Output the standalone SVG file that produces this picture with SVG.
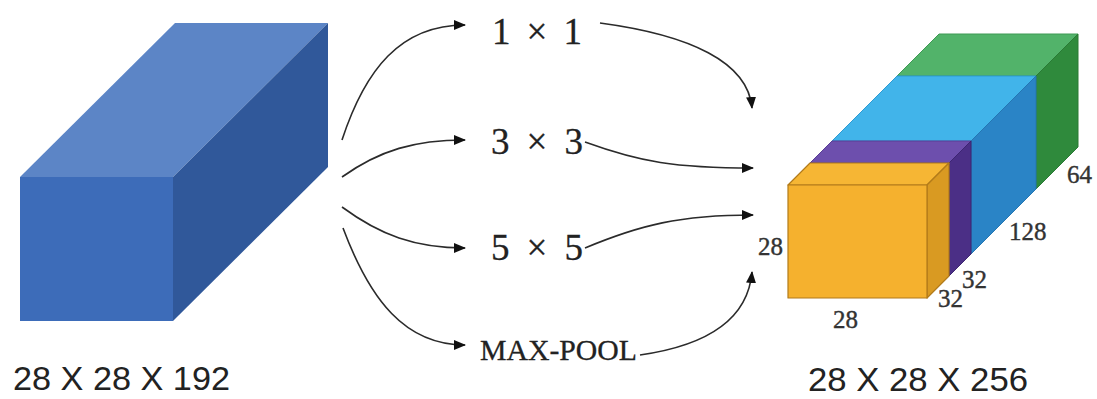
<svg xmlns="http://www.w3.org/2000/svg" width="1097" height="399" viewBox="0 0 1097 399">
<style>
.conn{fill:none;stroke:#2b2b2b;stroke-width:1.6}
.math{font-family:"Liberation Serif","DejaVu Serif",serif;fill:#222;stroke:#222;stroke-width:0.3}
.dim{font-family:"Liberation Serif","DejaVu Serif",serif;font-size:25px;fill:#333;stroke:#333;stroke-width:0.4}
.cap{font-family:"Liberation Sans",Arial,sans-serif;font-size:34px;fill:#222}
</style>
<defs>
<marker id="ah" viewBox="0 0 12 10" refX="11" refY="5" markerWidth="12" markerHeight="10" markerUnits="userSpaceOnUse" orient="auto">
<path d="M0,0 L12,5 L0,10 Z" fill="#111"/>
</marker>
</defs>
<rect width="1097" height="399" fill="#fff"/>

<g id="input-volume">
<polygon points="20,177 175,23 328,23 173,177" fill="#5c85c6"/>
<polygon points="173,177 328,23 328,167 173,321" fill="#30589a"/>
<rect x="20" y="177" width="153" height="144" fill="#3d6cb9"/>
</g>

<g id="op-1x1"><text class="math" x="492" y="44" font-size="37" textLength="90" lengthAdjust="spacing">1 × 1</text></g>
<g id="op-3x3"><text class="math" x="491" y="154" font-size="37" textLength="92" lengthAdjust="spacing">3 × 3</text></g>
<g id="op-5x5"><text class="math" x="491" y="260" font-size="37" textLength="92" lengthAdjust="spacing">5 × 5</text></g>
<g id="op-maxpool"><text class="math" x="480" y="360" font-size="30" textLength="157" lengthAdjust="spacingAndGlyphs">MAX-POOL</text></g>

<g id="output-volume" stroke-linejoin="round">
<polygon points="897,76 939,34 1078,34 1036,76" fill="#52b36a" stroke="#3f9a55" stroke-width="1"/>
<polygon points="1036,76 1078,34 1078,147 1036,189" fill="#2f8a3c" stroke="#2a7a35" stroke-width="1"/>
<polygon points="832,141 897,76 1036,76 971,141" fill="#41b4ea" stroke="#2e9bd3" stroke-width="1"/>
<polygon points="971,141 1036,76 1036,189 971,254" fill="#2a84c6" stroke="#2476b3" stroke-width="1"/>
<polygon points="810,163 832,141 971,141 949,163" fill="#6d4fad" stroke="#5a3f96" stroke-width="1"/>
<polygon points="949,163 971,141 971,254 949,276" fill="#4b2f86" stroke="#3d2672" stroke-width="1"/>
<text class="dim" x="758" y="255">28</text>
<polygon points="788,185 810,163 949,163 927,185" fill="#f6b634" stroke="#b27b1a" stroke-width="1.2"/>
<polygon points="927,185 949,163 949,276 927,298" fill="#d99a22" stroke="#b27b1a" stroke-width="1.2"/>
<rect x="788" y="185" width="139" height="113" fill="#f5b12e" stroke="#b27b1a" stroke-width="1.2"/>
</g>

<g id="dims">
<text class="dim" x="833" y="328">28</text>
<text class="dim" x="938" y="307">32</text>
<text class="dim" x="962" y="288">32</text>
<text class="dim" x="1009" y="240">128</text>
<text class="dim" x="1067" y="183">64</text>
</g>

<g id="caption-in"><text class="cap" x="13" y="390" textLength="217" lengthAdjust="spacingAndGlyphs">28 X 28 X 192</text></g>
<g id="caption-out"><text class="cap" x="808" y="391" textLength="220" lengthAdjust="spacingAndGlyphs">28 X 28 X 256</text></g>

<g id="connectors">
<path class="conn" d="M342,140 C365,70 400,25 465,25" marker-end="url(#ah)"/>
<path class="conn" d="M342,177 C380,150 415,140 465,140" marker-end="url(#ah)"/>
<path class="conn" d="M342,207 C380,235 415,248 465,248" marker-end="url(#ah)"/>
<path class="conn" d="M343,228 C370,300 405,345 465,345" marker-end="url(#ah)"/>
<path class="conn" d="M600,23 C690,35 748,62 752,108" marker-end="url(#ah)"/>
<path class="conn" d="M585,142 C640,162 675,168 753,168" marker-end="url(#ah)"/>
<path class="conn" d="M585,248 C640,225 680,215 753,215" marker-end="url(#ah)"/>
<path class="conn" d="M640,355 C710,345 748,318 752,272" marker-end="url(#ah)"/>
</g>
</svg>
